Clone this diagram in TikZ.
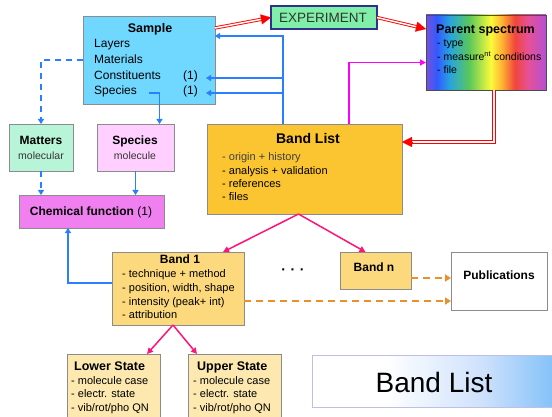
\documentclass[tikz,border=0pt]{standalone}
\usepackage{fontspec}
\setmainfont{Liberation Sans}
\usetikzlibrary{arrows.meta,calc}
\definecolor{boxgray}{RGB}{140,140,140}
\definecolor{samplefill}{RGB}{112,216,255}
\definecolor{expfill}{RGB}{128,240,168}
\definecolor{expborder}{RGB}{48,48,144}
\definecolor{mattersfill}{RGB}{184,245,216}
\definecolor{speciesfill}{RGB}{255,208,255}
\definecolor{chemfill}{RGB}{240,128,240}
\definecolor{blfill}{RGB}{251,197,49}
\definecolor{bandfill}{RGB}{252,217,124}
\definecolor{statefill}{RGB}{253,233,176}
\definecolor{lblue}{RGB}{42,127,255}
\definecolor{lmag}{RGB}{255,0,255}
\definecolor{lpink}{RGB}{255,20,120}
\definecolor{lorange}{RGB}{232,144,42}
\definecolor{bannerblue}{RGB}{128,192,248}
\definecolor{bannermid}{RGB}{205,225,252}
\definecolor{bannerborder}{RGB}{190,190,230}
\definecolor{rb0}{RGB}{120,80,220}
\definecolor{rb1}{RGB}{50,90,255}
\definecolor{rb2}{RGB}{40,165,220}
\definecolor{rb3}{RGB}{90,200,90}
\definecolor{rb4}{RGB}{250,250,60}
\definecolor{rb5}{RGB}{255,180,50}
\definecolor{rb6}{RGB}{240,70,60}
\definecolor{rb7}{RGB}{230,80,150}
\definecolor{rb8}{RGB}{180,80,210}
\pgfdeclarehorizontalshading{rainbow}{100bp}{color(0bp)=(rb0); color(25bp)=(rb0); color(29.5bp)=(rb1); color(35bp)=(rb2); color(43bp)=(rb3); color(52bp)=(rb4); color(56.5bp)=(rb5); color(62bp)=(rb6); color(67.5bp)=(rb7); color(75bp)=(rb8); color(100bp)=(rb8)}
\pgfdeclarehorizontalshading{bannershade}{100bp}{color(0bp)=(white); color(25bp)=(white); color(40bp)=(white); color(60bp)=(bannermid); color(75bp)=(bannerblue); color(100bp)=(bannerblue)}
\tikzset{
  box/.style={draw=boxgray, line width=0.8pt, anchor=north west, inner sep=0pt, outer sep=0pt},
  txt/.style={inner sep=0pt, anchor=west, text height=0.72em, text depth=0.2em, font=\fontsize{11}{13}\selectfont},
  ttl/.style={inner sep=0pt, text height=0.72em, text depth=0.2em, font=\bfseries\fontsize{12}{14}\selectfont},
  bline/.style={draw=lblue, line width=1.5pt, -{Triangle[length=5pt,width=6pt]}},
  bdash/.style={bline, dash pattern=on 6pt off 5pt},
  mline/.style={draw=lmag, line width=1.5pt, -{Triangle[length=6pt,width=6pt]}},
  pline/.style={draw=lpink, line width=1.5pt, -{Triangle[length=6pt,width=6pt]}},
  oline/.style={draw=lorange, line width=1.7pt, dash pattern=on 7pt off 5pt, -{Triangle[length=6pt,width=7pt]}},
  dbl/.style={draw=red, double=white, line width=0.9pt, double distance=1.5pt},
  redtip/.style={draw=red, fill=red, line width=0.1pt, -{Triangle[length=10pt,width=10pt]}},
}
\begin{document}
\begin{tikzpicture}[x=1pt,y=-1pt]
\useasboundingbox (0,0) rectangle (552,417);
% boxes
\node[box, fill=samplefill, minimum width=132pt, minimum height=88pt] (sample) at (83,16) {};
\node[box, fill=expfill, draw=expborder, line width=1.2pt, minimum width=106pt, minimum height=23pt] (exp) at (271,6) {};
\node[box, shading=rainbow, draw=black!70, minimum width=120pt, minimum height=75pt] (parent) at (426,15) {};
\node[box, fill=mattersfill, minimum width=64pt, minimum height=47pt] (matters) at (9,124) {};
\node[box, fill=speciesfill, minimum width=77pt, minimum height=47pt] (species) at (97,124) {};
\node[box, fill=chemfill, minimum width=145pt, minimum height=33pt] (chem) at (19,195) {};
\node[box, fill=blfill, minimum width=195pt, minimum height=90pt] (bandlist) at (207,124) {};
\node[box, fill=bandfill, minimum width=132pt, minimum height=73pt] (band1) at (112,252) {};
\node[box, fill=bandfill, minimum width=71pt, minimum height=37pt] (bandn) at (340,252) {};
\node[box, fill=white, minimum width=96pt, minimum height=58pt] (pub) at (451,252) {};
\node[box, fill=statefill, minimum width=93pt, minimum height=70pt] (lower) at (67,354) {};
\node[box, fill=statefill, minimum width=93pt, minimum height=70pt] (upper) at (188,354) {};
\node[box, shading=bannershade, draw=bannerborder, minimum width=245pt, minimum height=52pt] (banner) at (312,355) {};
% texts: Sample
\node[ttl, font=\bfseries\fontsize{12.5}{14}\selectfont] (tsample) at (150,30) {Sample};
\node[txt, font=\fontsize{12}{14}\selectfont] (t1) at (94,45) {Layers};
\node[txt, font=\fontsize{12}{14}\selectfont] (t2) at (94,61) {Materials};
\node[txt, font=\fontsize{12}{14}\selectfont] (t3) at (94,77) {Constituents};
\node[txt, font=\fontsize{12}{14}\selectfont] (t4) at (94,92) {Species};
\node[txt, font=\fontsize{12}{14}\selectfont] (t5) at (183,77) {(1)};
\node[txt, font=\fontsize{12}{14}\selectfont] (t6) at (183,92) {(1)};
% EXPERIMENT
\node[inner sep=0pt, font=\fontsize{13.5}{15}\selectfont, text=black!80] (texp) at (323,18) {EXPERIMENT};
% Parent spectrum
\node[ttl, anchor=west, font=\bfseries\fontsize{12.5}{14}\selectfont] (tpar) at (436,31) {Parent spectrum};
\node[txt, font=\fontsize{10.5}{12}\selectfont] (tp1) at (437,44) {- type};
\node[txt, font=\fontsize{10.5}{12}\selectfont] (tp2) at (437,58) {- measure\textsuperscript{nt} conditions};
\node[txt, font=\fontsize{10.5}{12}\selectfont] (tp3) at (437,71) {- file};
% Matters / Species / Chem
\node[ttl] (tmat) at (41,142) {Matters};
\node[inner sep=0pt, font=\fontsize{10.5}{12}\selectfont, text=black!80] (tmat2) at (41,156) {molecular};
\node[ttl] (tspe) at (135,142) {Species};
\node[inner sep=0pt, font=\fontsize{10.5}{12}\selectfont, text=black!80] (tspe2) at (135,156) {molecule};
\node[inner sep=0pt, font=\fontsize{12}{14}\selectfont] (tchem) at (91,212) {\textbf{Chemical function} (1)};
% Band List
\node[ttl, font=\bfseries\fontsize{14}{16}\selectfont] (tbl) at (308,141) {Band List};
\node[txt, text=black!75] (tb1) at (222,158) {- origin + history};
\node[txt] (tb2) at (222,172) {- analysis + validation};
\node[txt] (tb3) at (222,185) {- references};
\node[txt] (tb4) at (222,198) {- files};
% Band 1
\node[ttl] (tband1) at (180,261) {Band 1};
\node[txt] (tc1) at (122,275) {- technique + method};
\node[txt] (tc2) at (122,289) {- position, width, shape};
\node[txt] (tc3) at (122,303) {- intensity (peak+ int)};
\node[txt] (tc4) at (122,316) {- attribution};
% Band n, dots, Publications
\node[ttl] (tbandn) at (374,269) {Band n};
\node[inner sep=0pt, font=\bfseries\fontsize{14}{14}\selectfont] (dots) at (293,272) {·\,\,·\,\,·};
\node[ttl] (tpub) at (499,277) {Publications};
% states
\node[ttl, anchor=west, font=\bfseries\fontsize{12.5}{14}\selectfont] (tlow) at (74,368) {Lower State};
\node[txt] (tl1) at (71,382) {- molecule case};
\node[txt] (tl2) at (71,395) {- electr. state};
\node[txt] (tl3) at (71,409) {- vib/rot/pho QN};
\node[ttl, anchor=west, font=\bfseries\fontsize{12.5}{14}\selectfont] (tup) at (197,368) {Upper State};
\node[txt] (tu1) at (193,382) {- molecule case};
\node[txt] (tu2) at (193,395) {- electr. state};
\node[txt] (tu3) at (193,409) {- vib/rot/pho QN};
% banner
\node[inner sep=0pt, font=\fontsize{28}{30}\selectfont] (tban) at (434,382) {Band List};
% --- connectors ---
% red double arrows
\coordinate (s1) at ([yshift=-12pt]sample.north east);
\draw[dbl, shorten >=8pt] (s1) -- (exp.west);
\draw[redtip] ($(exp.west)!10pt!(s1)$) -- (exp.west);
\coordinate (e2) at ([yshift=-14pt]parent.north west);
\draw[dbl, shorten >=8pt] (exp.east) -- (e2);
\draw[redtip] ($(e2)!10pt!(exp.east)$) -- (e2);
\coordinate (p1) at ([xshift=8pt]parent.south);
\coordinate (p3) at ([yshift=-18pt]bandlist.north east);
\draw[dbl, shorten >=8pt] (p1) |- (p3);
\draw[redtip] ($(p3)+(10,0)$) -- (p3);
% blue from Band List to Sample
\coordinate (bt) at ([xshift=-21.5pt]bandlist.north);
\coordinate (sa) at ([yshift=-20pt]sample.north east);
\coordinate (c1) at (206,78);
\coordinate (c2) at (206,93);
\draw[bline] (bt) |- (sa);
\draw[bline] (bt |- c1) -- (c1);
\draw[bline] (bt |- c2) -- (c2);
% magenta
\draw[mline] ([xshift=44.5pt]bandlist.north) |- ([yshift=-10pt]parent.west);
% sample to matters (dashed), species
\draw[bdash] (sample.west) -| (matters.north);
\coordinate (spc) at (149,93);
\draw[bline] (spc) -| ([xshift=24pt]species.north);
\draw[bdash] (matters.south) -- (chem.north -| matters.south);
\draw[bline] (species.south) -- (chem.north -| species.south);
% band1 to chem
\draw[bline] ([yshift=5.5pt]band1.west) -| ([xshift=-23.5pt]chem.south);
% band list to band1 / band n
\coordinate (bls) at ([xshift=-6pt]bandlist.south);
\draw[pline] (bls) -- ([xshift=45pt]band1.north);
\draw[pline] (bls) -- ([xshift=-10pt]bandn.north);
% band1 to states
\coordinate (b1s) at ([xshift=-5pt]band1.south);
\draw[pline] (b1s) -- ([xshift=33.5pt]lower.north);
\draw[pline] (b1s) -- ([xshift=-37.5pt]upper.north);
% orange dashed to publications
\coordinate (o1) at ([yshift=-7.5pt]bandn.east);
\draw[oline] (o1) -- (pub.west |- o1);
\coordinate (o2) at ([yshift=-12.5pt]band1.east);
\draw[oline] (o2) -- (pub.west |- o2);
\end{tikzpicture}
\end{document}
